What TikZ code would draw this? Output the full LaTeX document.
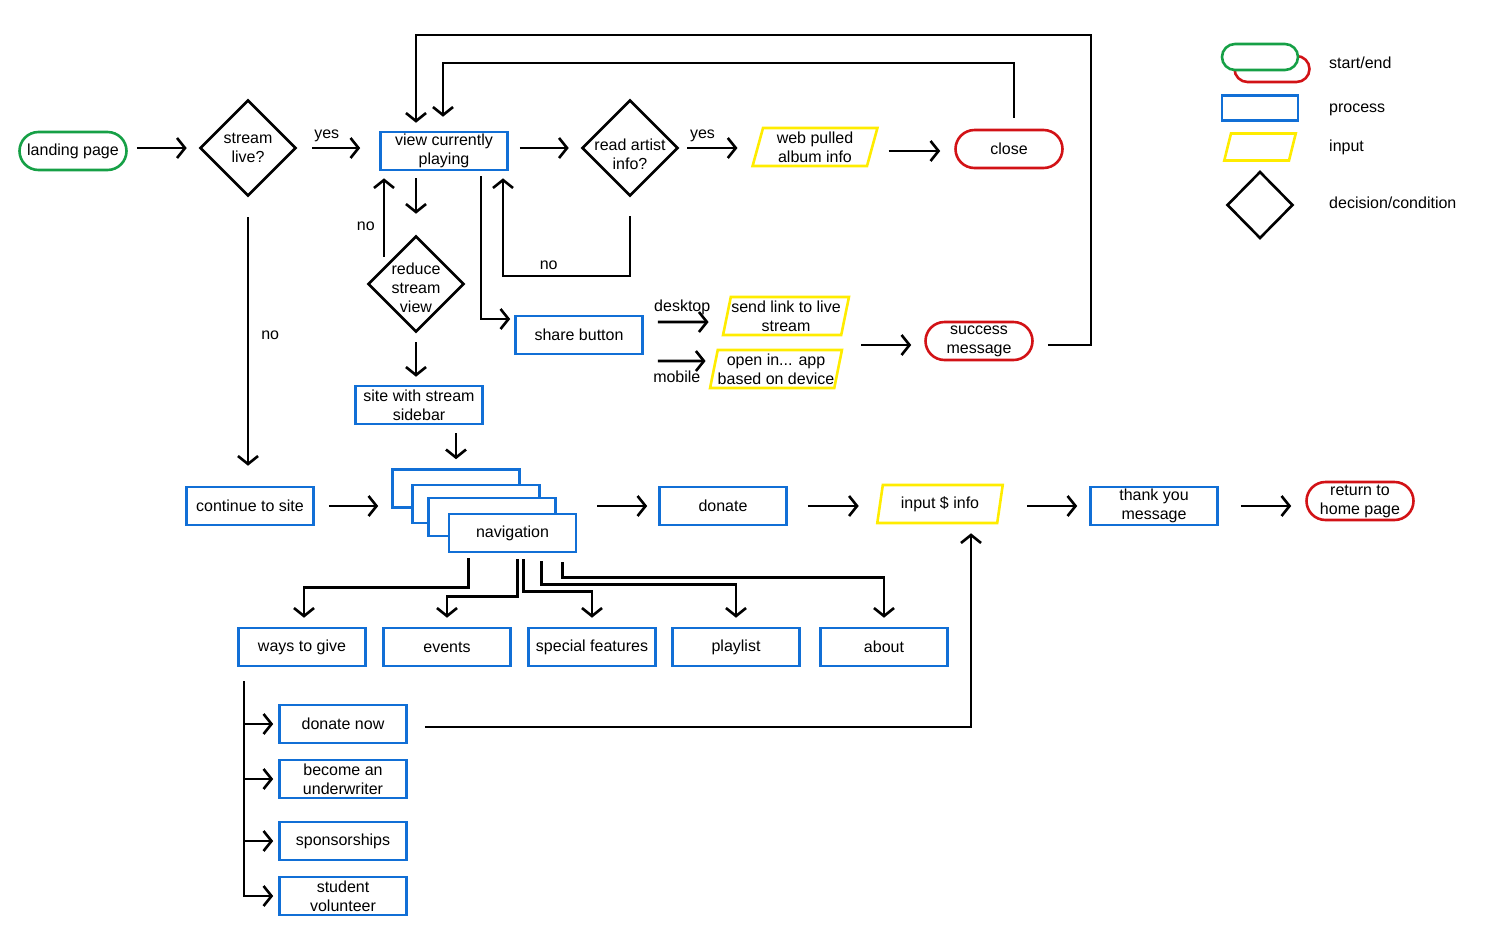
\documentclass[tikz,border=0pt]{standalone}
\usepackage{fontspec}
\setmainfont{Liberation Sans}
\usetikzlibrary{arrows.meta,shapes.geometric}
\definecolor{cgreen}{RGB}{22,160,70}
\definecolor{cblue}{RGB}{17,111,214}
\definecolor{cyellow}{RGB}{255,236,0}
\definecolor{cred}{RGB}{210,18,22}
\begin{document}
\begin{tikzpicture}[x=1pt,y=-1pt,
  every node/.style={font=\fontsize{16}{19}\selectfont, align=center, inner sep=0pt, text=black},
  lw/.style={line width=2.6pt},
  proc/.style={rectangle, draw=cblue, lw, fill=white, minimum width=127pt, minimum height=38pt},
  term/.style={rectangle, rounded corners=19pt, lw, minimum width=107pt, minimum height=38pt},
  startnode/.style={term, draw=cgreen},
  endnode/.style={term, draw=cred},
  inp/.style={trapezium, trapezium left angle=76, trapezium right angle=104, trapezium stretches=true, draw=cyellow, lw, minimum width=126pt, minimum height=38pt},
  dec/.style={diamond, draw=black, lw, minimum width=96pt, minimum height=96pt},
  arr/.style={lw, -{Straight Barb[length=8pt,width=20pt]}},
  legtext/.style={anchor=west}
]
\useasboundingbox (0,0) rectangle (1500,946);

% top row
\node[startnode] (land) at (73,151) {landing page};
\node[dec, label={center:{stream\\live?}}] (live) at (248,148) {};
\node[proc] (view) at (444,151) {view currently\\playing};
\node[dec, label={[yshift=-6pt]center:{read artist\\info?}}] (artist) at (630,148) {};
\node[inp] (web) at (815,147) {web pulled\\album info};
\node[endnode] (close) at (1009,149) {close};
\node[dec, label={[yshift=-4pt]center:{reduce\\stream\\view}}] (reduce) at (416,284) {};
\node[proc] (sidebar) at (419,405) {site with stream\\sidebar};
\node[proc] (share) at (579,335) {share button};
\node[inp] (sendlink) at (786,316) {send link to live\\stream};
\node[inp] (openin) at (776,369) {open in... app\\based on device};
\node[endnode] (success) at (979,341) {success\\message};

% middle row
\node[proc] (cont) at (250,506) {continue to site};
\node[proc] (nav1) at (456,488.5) {};
\node[proc] (nav2) at (476,504) {};
\node[proc] (nav3) at (492,517) {};
\node[proc] (nav) at (512.5,533) {navigation};
\node[proc] (donate) at (723,506) {donate};
\node[inp] (inputinfo) at (940,504) {input \$ info};
\node[proc] (thanks) at (1154,506) {thank you\\message};
\node[endnode] (ret) at (1360,501) {return to\\home page};

% navigation targets
\node[proc] (ways) at (302,647) {ways to give};
\node[proc] (events) at (447,647) {events};
\node[proc] (special) at (592,647) {special features};
\node[proc] (playlist) at (736,647) {playlist};
\node[proc] (about) at (884,647) {about};

\node[proc] (dnow) at (343,724) {donate now};
\node[proc] (under) at (343,779) {become an\\underwriter};
\node[proc] (spons) at (343,841) {sponsorships};
\node[proc] (student) at (343,896) {student\\volunteer};

% legend
\node[term, draw=cred, minimum width=75pt, minimum height=26pt, rounded corners=13pt] (lgend) at (1272,69) {};
\node[term, draw=cgreen, fill=white, minimum width=76pt, minimum height=26pt, rounded corners=13pt] (lgstart) at (1260,57) {};
\node[proc, minimum width=76pt, minimum height=25pt] (lgproc) at (1260,108) {};
\node[inp, minimum width=0pt, minimum height=0pt] (lginp) at (1260,147) {\rule{58pt}{0pt}\rule{0pt}{27pt}};
\node[dec, minimum width=66pt, minimum height=67pt] (lgdec) at (1260,205) {};
\node[legtext] (t1) at (1329,65) {start/end\strut};
\node[legtext] (t2) at (1329,109) {process\strut};
\node[legtext] (t3) at (1329,148) {input\strut};
\node[legtext] (t4) at (1329,205) {decision/condition\strut};

% helper coordinates
\coordinate (c1) at (443,63);
\coordinate (c2) at (1091,35);
\coordinate (c3) at (416,35);
\coordinate (c4) at (503,276);
\coordinate (m1) at (861,345);

% connectors top
\draw[arr, shorten <=9pt, shorten >=12pt] (land.east |- live) -- (live.west);
\draw[arr, shorten <=15pt, shorten >=19pt] (live.east) -- node[pos=0.36, above=5pt]{yes} (view.west |- live);
\draw[arr, shorten <=11pt, shorten >=12pt] (view.east |- artist) -- (artist.west);
\draw[arr, shorten <=8pt, shorten >=19pt] (artist.east) -- node[pos=0.3, above=5pt]{yes} (web.west |- artist);
\draw[arr, shorten <=15pt, shorten >=14pt] ([yshift=-4pt]web.east) -- ([yshift=-4pt]web.east -| close.west);
\draw[arr, shorten <=11pt, shorten >=14pt] ([xshift=5pt]close.north) |- (c1) -- (view.north -| c1);
\draw[arr, shorten >=8pt] ([xshift=14pt,yshift=-4pt]success.east) -| (c2) -- (c3) -- (view.north -| c3);

\draw[arr, shorten <=7pt, shorten >=21pt] (view.south -| reduce) -- (reduce.north);
\draw[arr, shorten >=7pt] ([xshift=-32pt,yshift=-22pt]reduce.north) -- node[pos=0.36, left=8pt]{no} ([xshift=-60pt]view.south);
\draw[arr, shorten <=9pt, shorten >=8pt] (reduce.south) -- (sidebar.north -| reduce.south);
\draw[arr, shorten <=8pt, shorten >=9pt] (sidebar.south -| nav1) -- (nav1.north);

\draw[arr, shorten <=5pt, shorten >=4pt] ([xshift=37pt]view.south) |- ([yshift=16pt]share.west);
\draw[arr, shorten <=19pt, shorten >=7pt] (artist.south) -- (artist.south |- c4) -- node[pos=0.64, above=5pt]{no} (c4) -- ([xshift=59pt]view.south);

\draw[arr, shorten <=14pt, shorten >=17pt] ([yshift=13pt]share.east) -- node[pos=0.47, above=6pt]{desktop} ([yshift=-6pt]sendlink.west);
\draw[arr, shorten <=14pt, shorten >=7pt] ([yshift=-26pt]share.east) -- node[pos=0.48, below=9pt]{mobile} ([yshift=8pt]openin.west);
\draw[arr, shorten >=13pt] (m1) -- (success.west |- m1);

\draw[arr, shorten <=20pt, shorten >=20pt] (live.south) -- node[pos=0.48, right=12pt]{no} (cont.north -| live.south);

% middle row connectors
\draw[arr, shorten <=14pt, shorten >=13pt] (cont.east) -- (cont.east -| nav1.west);
\draw[arr, shorten <=20pt, shorten >=11pt] (donate.west -| nav.east) -- (donate.west);
\draw[arr, shorten <=20pt, shorten >=20pt] (donate.east) -- (inputinfo.west |- donate.east);
\draw[arr, shorten <=26pt, shorten >=12pt] (inputinfo.east |- thanks) -- (thanks.west);
\draw[arr, shorten <=22pt, shorten >=14pt] (thanks.east) -- (ret.west |- thanks.east);

% navigation branches
\draw[arr, shorten >=9pt] ([xshift=-44pt,yshift=-5pt]nav.south) -- ++(0,29) -| ([xshift=2pt]ways.north);
\draw[arr, shorten >=9pt] ([xshift=5pt,yshift=-6pt]nav.south) -- ++(0,37) -| (events.north);
\draw[arr, shorten >=9pt] ([xshift=11pt,yshift=-6pt]nav.south) -- ++(0,32) -| (special.north);
\draw[arr, shorten >=9pt] ([xshift=29pt,yshift=-8pt]nav.south) -- ++(0,23) -| (playlist.north);
\draw[arr, shorten >=9pt] ([xshift=50pt,yshift=-9pt]nav.south) -- ++(0,15) -| (about.north);

% ways to give branches
\draw[arr, shorten >=5pt] ([xshift=-58pt,yshift=-14pt]ways.south) |- (dnow.west);
\draw[arr, shorten >=5pt] ([xshift=-58pt,yshift=-14pt]ways.south) |- (under.west);
\draw[arr, shorten >=5pt] ([xshift=-58pt,yshift=-14pt]ways.south) |- (spons.west);
\draw[arr, shorten >=5pt] ([xshift=-58pt,yshift=-14pt]ways.south) |- (student.west);

\draw[arr, shorten <=17pt, shorten >=9pt] ([yshift=-3pt]dnow.east) -| ([xshift=31pt]inputinfo.south);
\end{tikzpicture}
\end{document}
